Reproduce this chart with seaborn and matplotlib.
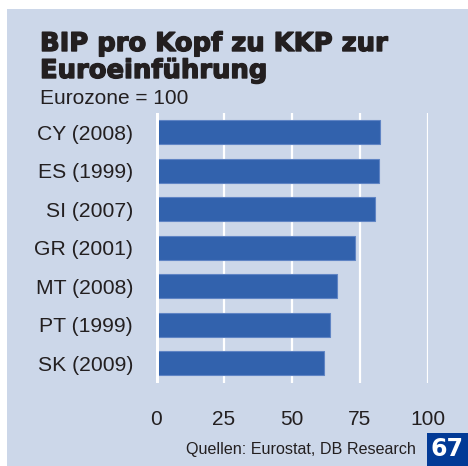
import matplotlib
matplotlib.use("Agg")
import matplotlib.pyplot as plt
import seaborn as sns
import pandas as pd
from matplotlib.patches import Rectangle
from matplotlib import patheffects as pe

# GDP per capita in PPP at euro adoption, euro area = 100
countries = ["CY (2008)", "ES (1999)", "SI (2007)", "GR (2001)",
             "MT (2008)", "PT (1999)", "SK (2009)"]
values = [82.4, 82.0, 80.5, 73.2, 66.8, 64.2, 62.0]
x_ticks = [0, 25, 50, 75, 100]

df = pd.DataFrame({"country": countries, "value": values})

BG = "#CCD7E9"
BAR = "#3262AD"
TXT = "#231F20"
BOX = "#023A96"

sns.set_theme(style="white")
plt.rcParams["font.family"] = ["Liberation Sans", "DejaVu Sans"]

W, H = 468, 466
fig = plt.figure(figsize=(W / 100, H / 100), dpi=100)
fig.patch.set_facecolor("white")

# light blue panel behind everything
fig.patches.append(Rectangle((7 / W, 0), 1 - 7 / W, 1 - 9 / H,
                             transform=fig.transFigure, facecolor=BG,
                             edgecolor="none", zorder=-5))

ax = fig.add_axes([156 / W, 83.5 / H, 271.7 / W, 269.5 / H])
ax.set_zorder(1)
ax.patch.set_alpha(0)

for t in x_ticks[1:]:
    ax.axvline(t, color="white", lw=1.6, zorder=1)

sns.barplot(data=df, x="value", y="country", color=BAR, saturation=1,
            width=0.63, edgecolor="#5F84C4", linewidth=0.8, ax=ax, zorder=2)
ax.axvline(0, color="white", lw=4.3, zorder=3)

ax.set_xlim(0, 100)
ax.set_ylim(6.5, -0.5)
ax.set_xticks(x_ticks)
ax.set_xticklabels([str(t) for t in x_ticks])
ax.set_xlabel("")
ax.set_ylabel("")
for s in ax.spines.values():
    s.set_visible(False)
ax.tick_params(axis="x", length=0, pad=20, labelsize=15, labelcolor=TXT)
ax.tick_params(axis="y", length=0, pad=16.5, labelsize=15.2, labelcolor=TXT)

title_fx = [pe.withStroke(linewidth=1.0, foreground=TXT)]
fig.text(40 / W, 1 - 51 / H, "BIP pro Kopf zu KKP zur", fontsize=18.6,
         fontweight="bold", color=TXT, family="DejaVu Sans",
         path_effects=title_fx, va="baseline")
fig.text(40 / W, 1 - 78 / H, "Euroeinführung", fontsize=18.6,
         fontweight="bold", color=TXT, family="DejaVu Sans",
         path_effects=title_fx, va="baseline")
fig.text(40 / W, 1 - 104 / H, "Eurozone = 100", fontsize=15,
         color=TXT, va="baseline")

fig.text(416 / W, 1 - 454 / H, "Quellen: Eurostat, DB Research",
         fontsize=11.6, color=TXT, ha="right", va="baseline")

fig.patches.append(Rectangle((427 / W, 0), 41 / W, 33 / H,
                             transform=fig.transFigure, facecolor=BOX,
                             edgecolor="none", zorder=5))
fig.text(447.5 / W, 16.5 / H, "67", fontsize=17, fontweight="bold",
         color="white", ha="center", va="center", family="DejaVu Sans",
         zorder=6)

fig.savefig("out.png", dpi=100, facecolor=fig.get_facecolor())
